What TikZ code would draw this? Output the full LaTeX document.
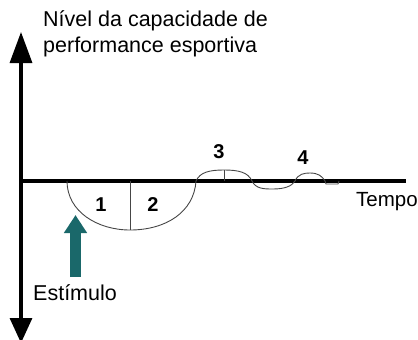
\documentclass[tikz,border=0pt]{standalone}
\usepackage{fontspec}
\setmainfont{Liberation Sans}
\usetikzlibrary{arrows.meta}
\definecolor{teal1}{RGB}{26,104,106}
\definecolor{curvegray}{RGB}{70,70,70}
\tikzset{
  axis/.style={line width=3.2pt, black},
  curve/.style={line width=0.9pt, curvegray},
  lbl/.style={inner sep=0pt, anchor=base west, font=\fontsize{21.5}{24}\selectfont},
  num/.style={inner sep=0pt, anchor=center, font=\fontsize{20}{22}\selectfont\bfseries},
}
\begin{document}
\begin{tikzpicture}[x=1pt,y=-1pt]
\useasboundingbox (0,0) rectangle (418,340);
\clip (0,0) rectangle (418,340);
% axes
\coordinate (ytop) at (21,32);
\coordinate (ybot) at (21,343);
\coordinate (origin) at (21,181);
\coordinate (xend) at (406,181);
\draw[axis, {Triangle[length=25pt,width=22pt]}-{Triangle[length=31pt,width=22pt]}] (ybot) -- (ytop);
\draw[axis] (origin) -- (xend);
% labels
\node[lbl] (title1) at (43,27) {Nível da capacidade de};
\node[lbl] (title2) at (43,52) {performance esportiva};
\node[lbl, font=\fontsize{20.5}{22}\selectfont] (tempo) at (356,206.5) {Tempo};
\node[lbl] (estimulo) at (33,300) {Estímulo};
% response curve
\draw[curve] (67,181) .. controls (67,212) and (98,230) .. (130,230)
  .. controls (166,230) and (194,212) .. (196,181)
  .. controls (200,172) and (210,170) .. (224,170)
  .. controls (238,170) and (248,172) .. (252,181)
  .. controls (256,189) and (264,189) .. (273,189)
  .. controls (285,189) and (292,186) .. (295,181)
  .. controls (298,174) and (304,173) .. (310,173)
  .. controls (318,173) and (322,176) .. (325,181)
  -- (326,184) -- (338,184) -- (339,181);
\coordinate (d1top) at (130,181);
\coordinate (d1bot) at (130,230);
\coordinate (h3top) at (224,170);
\coordinate (h3bot) at (224,181);
\draw[curve] (d1top) -- (d1bot);
\draw[curve] (h3top) -- (h3bot);
% numbers
\node[num] (n1) at (101,205) {1};
\node[num] (n2) at (153,205) {2};
\node[num] (n3) at (219,152) {3};
\node[num] (n4) at (303,158) {4};
% stimulus arrow
\coordinate (stimbase) at (75.5,277);
\coordinate (stimtip) at (75.5,215);
\draw[line width=11pt, teal1, -{Triangle[length=18pt,width=22pt]}] (stimbase) -- (stimtip);
\end{tikzpicture}
\end{document}
